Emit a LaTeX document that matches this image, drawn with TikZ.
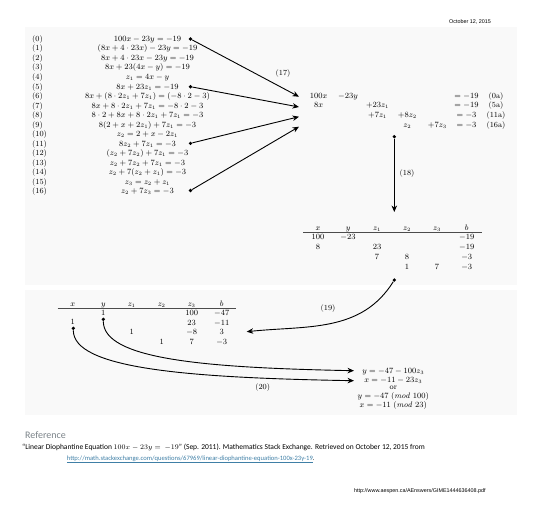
\documentclass[tikz,border=0pt]{standalone}
\usepackage{amsmath,amssymb}
\usepackage[no-math]{fontspec}
\usepackage{tikz}
\usetikzlibrary{arrows.meta,backgrounds}
\newfontfamily\calibri{Carlito}
\newfontfamily\arialf{Liberation Sans}
\definecolor{linkblue}{HTML}{3F7FA6}
\definecolor{headgray}{HTML}{7A8288}
\newcommand{\eqfont}{\fontsize{7.8}{9.5}\selectfont}

\begin{document}
\begin{tikzpicture}[x=1pt,y=1pt,
  >=Stealth,
  eq/.style={font=\eqfont,inner sep=0pt,anchor=base},
  tag/.style={eq,anchor=base west},
  dot/.style={circle,fill,inner sep=0pt,minimum size=3.6pt},
  link/.style={-{Stealth[length=6.5pt,width=5.5pt]},line width=0.9pt},
  small/.style={font=\arialf\fontsize{5.4}{6}\selectfont,inner sep=0pt,anchor=base west},
  cite/.style={font=\calibri\fontsize{7.5}{9}\selectfont,inner sep=0pt,anchor=base west}
]
  \useasboundingbox (0,0) rectangle (540,-515);
  % faint page panels
  \fill[black!2.5] (25,-27) rectangle (517,-285);
  \fill[black!2.5] (25,-290) rectangle (517,-415);
  \node[small] (date) at (449,-23) {October 12, 2015};

  % steps (0)-(16)
  \node[tag] (l0)  at (32,-41.3)  {(0)};  \node[eq] (e0)  at (147.5,-41.3)  {$100x-23y=-19$};
  \node[tag] (l1)  at (32,-50.8)  {(1)};  \node[eq] (e1)  at (147.5,-50.8)  {$(8x+4\cdot 23x)-23y=-19$};
  \node[tag] (l2)  at (32,-60.4)  {(2)};  \node[eq] (e2)  at (147.5,-60.4)  {$8x+4\cdot 23x-23y=-19$};
  \node[tag] (l3)  at (32,-69.9)  {(3)};  \node[eq] (e3)  at (147.5,-69.9)  {$8x+23(4x-y)=-19$};
  \node[tag] (l4)  at (32,-79.4)  {(4)};  \node[eq] (e4)  at (147.5,-79.4)  {$z_1=4x-y$};
  \node[tag] (l5)  at (32,-89.0)  {(5)};  \node[eq] (e5)  at (147.5,-89.0)  {$8x+23z_1=-19$};
  \node[tag] (l6)  at (32,-98.5)  {(6)};  \node[eq] (e6)  at (147.5,-98.5)  {$8x+(8\cdot 2z_1+7z_1)=(-8\cdot 2-3)$};
  \node[tag] (l7)  at (32,-108.0) {(7)};  \node[eq] (e7)  at (147.5,-108.0) {$8x+8\cdot 2z_1+7z_1=-8\cdot 2-3$};
  \node[tag] (l8)  at (32,-117.5) {(8)};  \node[eq] (e8)  at (147.5,-117.5) {$8\cdot 2+8x+8\cdot 2z_1+7z_1=-3$};
  \node[tag] (l9)  at (32,-127.1) {(9)};  \node[eq] (e9)  at (147.5,-127.1) {$8(2+x+2z_1)+7z_1=-3$};
  \node[tag] (l10) at (32,-136.6) {(10)}; \node[eq] (e10) at (147.5,-136.6) {$z_2=2+x-2z_1$};
  \node[tag] (l11) at (32,-146.1) {(11)}; \node[eq] (e11) at (147.5,-146.1) {$8z_2+7z_1=-3$};
  \node[tag] (l12) at (32,-155.7) {(12)}; \node[eq] (e12) at (147.5,-155.7) {$(z_2+7z_2)+7z_1=-3$};
  \node[tag] (l13) at (32,-165.2) {(13)}; \node[eq] (e13) at (147.5,-165.2) {$z_2+7z_2+7z_1=-3$};
  \node[tag] (l14) at (32,-174.7) {(14)}; \node[eq] (e14) at (147.5,-174.7) {$z_2+7(z_2+z_1)=-3$};
  \node[tag] (l15) at (32,-184.3) {(15)}; \node[eq] (e15) at (147.5,-184.3) {$z_3=z_2+z_1$};
  \node[tag] (l16) at (32,-193.8) {(16)}; \node[eq] (e16) at (147.5,-193.8) {$z_2+7z_3=-3$};

  % the reduced system
  \node[eq] (s0x)  at (318.7,-98.3)  {$100x$};
  \node[eq] (s0y)  at (348,-98.3)    {$-23y$};
  \node[eq] (s0b)  at (466.5,-98.3)  {$=-19$};
  \node[eq] (s0t)  at (496,-98.3)    {(0a)};
  \node[eq] (s5x)  at (318.7,-107.6) {$8x$};
  \node[eq] (s5z)  at (377.5,-107.6) {$+23z_1$};
  \node[eq] (s5b)  at (466.5,-107.6) {$=-19$};
  \node[eq] (s5t)  at (496,-107.6)   {(5a)};
  \node[eq] (s11a) at (377.5,-117.3) {$+7z_1$};
  \node[eq] (s11b) at (407.3,-117.3) {$+8z_2$};
  \node[eq] (s11c) at (466.5,-117.3) {$=-3$};
  \node[eq] (s11t) at (496,-117.3)   {(11a)};
  \node[eq] (s16a) at (407.3,-127)   {$z_2$};
  \node[eq] (s16b) at (437.3,-127)   {$+7z_3$};
  \node[eq] (s16c) at (466.5,-127)   {$=-3$};
  \node[eq] (s16t) at (496,-127)     {(16a)};

  % (17): picked rows into the system
  \node[dot] (d0)  at (190.5,-39)    {};
  \node[dot] (d5)  at (190.5,-86.7)  {};
  \node[dot] (d11) at (190.5,-143.3) {};
  \node[dot] (d16) at (190.5,-190.5) {};
  \coordinate (a0)  at (299,-96.7);
  \coordinate (a5)  at (299,-107);
  \coordinate (a11) at (299,-116.7);
  \coordinate (a16) at (299,-126.7);
  \draw[link] (d0)  -- (a0);
  \draw[link] (d5)  -- (a5);
  \draw[link] (d11) -- (a11);
  \draw[link] (d16) -- (a16);
  \node[eq] (n17) at (283,-75.5) {(17)};

  % (18): down to the first table
  \node[dot] (d18) at (394.3,-136.7) {};
  \coordinate (a18) at (394.3,-212);
  \draw[link] (d18) -- (a18);
  \node[eq] (n18) at (407,-175.8) {(18)};

  % first table
  \node[eq] (h1x) at (318,-230)   {$x$};
  \node[eq] (h1y) at (348,-230)   {$y$};
  \node[eq] (h11) at (377,-230)   {$z_1$};
  \node[eq] (h12) at (407,-230)   {$z_2$};
  \node[eq] (h13) at (437,-230)   {$z_3$};
  \node[eq] (h1b) at (466.7,-230) {$b$};
  \draw[line width=0.7pt,black!70] (303,-232.7) -- (481.7,-232.7);
  \node[eq] (t1a) at (318,-239.8)   {$100$};
  \node[eq] (t1b) at (348,-239.8)   {$-23$};
  \node[eq] (t1c) at (466.7,-239.8) {$-19$};
  \node[eq] (t2a) at (318,-249.8)   {$8$};
  \node[eq] (t2b) at (377,-249.8)   {$23$};
  \node[eq] (t2c) at (466.7,-249.8) {$-19$};
  \node[eq] (t3a) at (377,-259.5)   {$7$};
  \node[eq] (t3b) at (407,-259.5)   {$8$};
  \node[eq] (t3c) at (466.7,-259.5) {$-3$};
  \node[eq] (t4a) at (407,-269.2)   {$1$};
  \node[eq] (t4b) at (437,-269.2)   {$7$};
  \node[eq] (t4c) at (466.7,-269.2) {$-3$};

  % (19): back to the second table
  \node[dot] (d19) at (394.3,-280) {};
  \coordinate (a19) at (246.7,-331.7);
  \draw[link] (d19) to[out=-122,in=6] (a19);
  \node[eq] (n19) at (328,-310.3) {(19)};

  % second table
  \node[eq] (h2x) at (72.7,-306)  {$x$};
  \node[eq] (h2y) at (103.3,-306) {$y$};
  \node[eq] (h21) at (131.7,-306) {$z_1$};
  \node[eq] (h22) at (161.7,-306) {$z_2$};
  \node[eq] (h23) at (191.7,-306) {$z_3$};
  \node[eq] (h2b) at (221.7,-306) {$b$};
  \draw[line width=0.7pt,black!70] (57.7,-308.3) -- (236,-308.3);
  \node[eq] (u1a) at (103.3,-315.8) {$1$};
  \node[eq] (u1b) at (191.7,-315.8) {$100$};
  \node[eq] (u1c) at (221.7,-315.8) {$-47$};
  \node[eq] (u2a) at (72.7,-324.5)  {$1$};
  \node[eq] (u2b) at (191.7,-325.2) {$23$};
  \node[eq] (u2c) at (221.7,-325.2) {$-11$};
  \node[eq] (u3a) at (131.7,-334.8) {$1$};
  \node[eq] (u3b) at (191.7,-334.8) {$-8$};
  \node[eq] (u3c) at (221.7,-334.8) {$3$};
  \node[eq] (u4a) at (161.7,-344.2) {$1$};
  \node[eq] (u4b) at (191.7,-344.2) {$7$};
  \node[eq] (u4c) at (221.7,-344.2) {$-3$};

  % result
  \node[eq] (r1) at (393.3,-373)   {$y=-47-100z_3$};
  \node[eq] (r2) at (393.3,-382.3) {$x=-11-23z_3$};
  \node[eq] (r3) at (393.3,-389.6) {or};
  \node[eq] (r4) at (393.3,-398.6) {$y=-47\;(\mathit{mod}\;100)$};
  \node[eq] (r5) at (393.3,-407.6) {$x=-11\;(\mathit{mod}\;23)$};

  % (20): read off y and x
  \node[dot] (dy) at (103.3,-319.3) {};
  \node[dot] (dx) at (73.3,-328.3)  {};
  \coordinate (ay) at (354,-370.7);
  \coordinate (ax) at (354,-380.7);
  \draw[link] (dy) .. controls +(0,-40) and +(-150,3) .. (ay);
  \draw[link] (dx) .. controls +(0,-40) and +(-170,3) .. (ax);
  \node[eq] (n20) at (262.7,-389.6) {(20)};

  % reference
  \node[font=\calibri\fontsize{10}{12}\selectfont,text=headgray,inner sep=0pt,anchor=base west] (refhead) at (25,-438) {Reference};
  \node[cite] (cite1) at (22,-449) {“Linear Diophantine Equation $100x-23y=\ -19$” (Sep. 2011). Mathematics Stack Exchange. Retrieved on October 12, 2015 from};
  \node[cite,font=\calibri\fontsize{6.6}{8}\selectfont] (cite2) at (66.7,-460.3) {\textcolor{linkblue}{\underline{http://math.stackexchange.com/questions/67969/linear-diophantine-equation-100x-23y-19}}.};
  \node[small] (footer) at (354,-492) {http://www.aespen.ca/AEnswers/GIME1444636408.pdf};
\end{tikzpicture}
\end{document}
